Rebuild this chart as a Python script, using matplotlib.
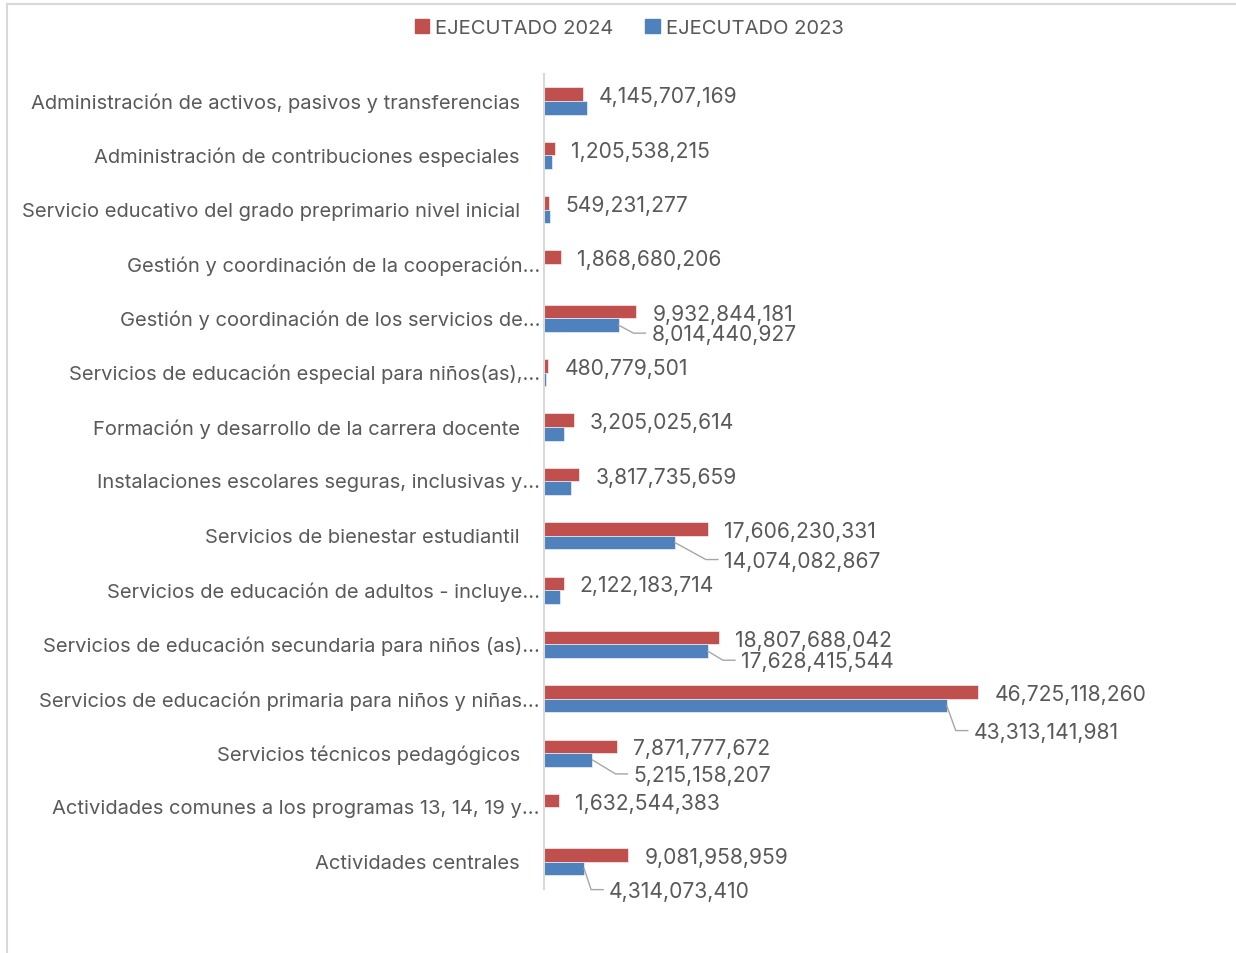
import numpy as np
import matplotlib.pyplot as plt
from matplotlib.lines import Line2D
from matplotlib.patches import Patch

plt.rcParams['font.family'] = ['Inter', 'DejaVu Sans']

categorias = [
    "Administración de activos, pasivos y transferencias",
    "Administración de contribuciones especiales",
    "Servicio educativo del grado preprimario nivel inicial",
    "Gestión y coordinación de la cooperación…",
    "Gestión y coordinación de los servicios de…",
    "Servicios de educación especial para niños(as),…",
    "Formación y desarrollo de la carrera docente",
    "Instalaciones escolares seguras, inclusivas y…",
    "Servicios de bienestar estudiantil",
    "Servicios de educación de adultos - incluye…",
    "Servicios de educación secundaria para niños (as)…",
    "Servicios de educación primaria para niños y niñas…",
    "Servicios técnicos pedagógicos",
    "Actividades comunes a los programas 13, 14, 19 y…",
    "Actividades centrales",
]
ejecutado_2024 = [4145707169, 1205538215, 549231277, 1868680206, 9932844181,
                  480779501, 3205025614, 3817735659, 17606230331, 2122183714,
                  18807688042, 46725118260, 7871777672, 1632544383, 9081958959]
# 2023 values without a visible label
ejecutado_2023 = [4.6e9, 0.82e9, 0.6e9, 0.05e9, 8014440927,
                  0.25e9, 2.1e9, 2.93e9, 14074082867, 1.7e9,
                  17628415544, 43313141981, 5215158207, 0, 4314073410]

# label offsets (pixels) for the 2023 labels that Excel shows
offsets_2023 = {4: (33, 8), 8: (49, 17), 10: (33, 9), 11: (27, 25), 12: (41, 14), 14: (25, 21)}

rojo = '#C0504D'
azul = '#4F81BD'
gris_txt = '#595959'
gris_lin = '#D9D9D9'
fs_cat = 14.5
fs_num = 15.2

W, H = 1236, 954
fig = plt.figure(figsize=(W / 100, H / 100), dpi=100)
ax = fig.add_axes([544 / W, 1 - 890 / H, (1180 - 544) / W, (890 - 74.8) / H])

y = np.arange(len(categorias))
ax.barh(y - 0.125, ejecutado_2024, height=0.25, color=rojo, edgecolor='white', linewidth=0.4)
ax.barh(y + 0.125, ejecutado_2023, height=0.25, color=azul, edgecolor='white', linewidth=0.4)
ax.set_ylim(len(categorias) - 0.5, -0.5)
ax.set_xlim(0, 68.4e9)

for s in ['top', 'right', 'bottom']:
    ax.spines[s].set_visible(False)
ax.spines['left'].set_color(gris_lin)
ax.spines['left'].set_linewidth(1.5)
ax.set_xticks([])
ax.set_yticks([])

for i, cat in enumerate(categorias):
    pad = 4 if cat.endswith('…') else 24
    ax.annotate(cat, xy=(0, i), xycoords=('axes fraction', 'data'), xytext=(-pad, -1),
                textcoords='offset pixels', ha='right', va='center', fontsize=fs_cat, color=gris_txt)

for i, v in enumerate(ejecutado_2024):
    ax.annotate(f"{v:,.0f}", xy=(v, i - 0.125), xytext=(16, -2), textcoords='offset pixels',
                ha='left', va='center', fontsize=fs_num, color=gris_txt)

inv = fig.transFigure.inverted()
for i, (dx, dy) in offsets_2023.items():
    v = ejecutado_2023[i]
    ax.annotate(f"{v:,.0f}", xy=(v, i + 0.125), xytext=(dx, -dy - 1), textcoords='offset pixels',
                ha='left', va='center', fontsize=fs_num, color=gris_txt)
    p0 = ax.transData.transform((v, i + 0.125))
    p2 = p0 + np.array([dx - 6, -dy])
    p1 = p2 - np.array([12, 0])
    pts = inv.transform(np.array([p0, p1, p2]))
    fig.add_artist(Line2D(pts[:, 0], pts[:, 1], color='#A6A6A6', lw=1))

handles = [Patch(color=rojo, label='EJECUTADO 2024'), Patch(color=azul, label='EJECUTADO 2023')]
fig.legend(handles=handles, loc='center', bbox_to_anchor=(0.509, 1 - 29 / H), ncol=2,
           frameon=False, fontsize=fs_cat, labelcolor=gris_txt, handlelength=0.7, handleheight=0.7,
           handletextpad=0.3, columnspacing=1.6)

fig.add_artist(Line2D([7 / W, 1], [1 - 5 / H, 1 - 5 / H], color=gris_lin, lw=1.5))
fig.add_artist(Line2D([7 / W, 7 / W], [0, 1 - 5 / H], color=gris_lin, lw=1.5))

fig.savefig('out.png', dpi=100, facecolor='white')
